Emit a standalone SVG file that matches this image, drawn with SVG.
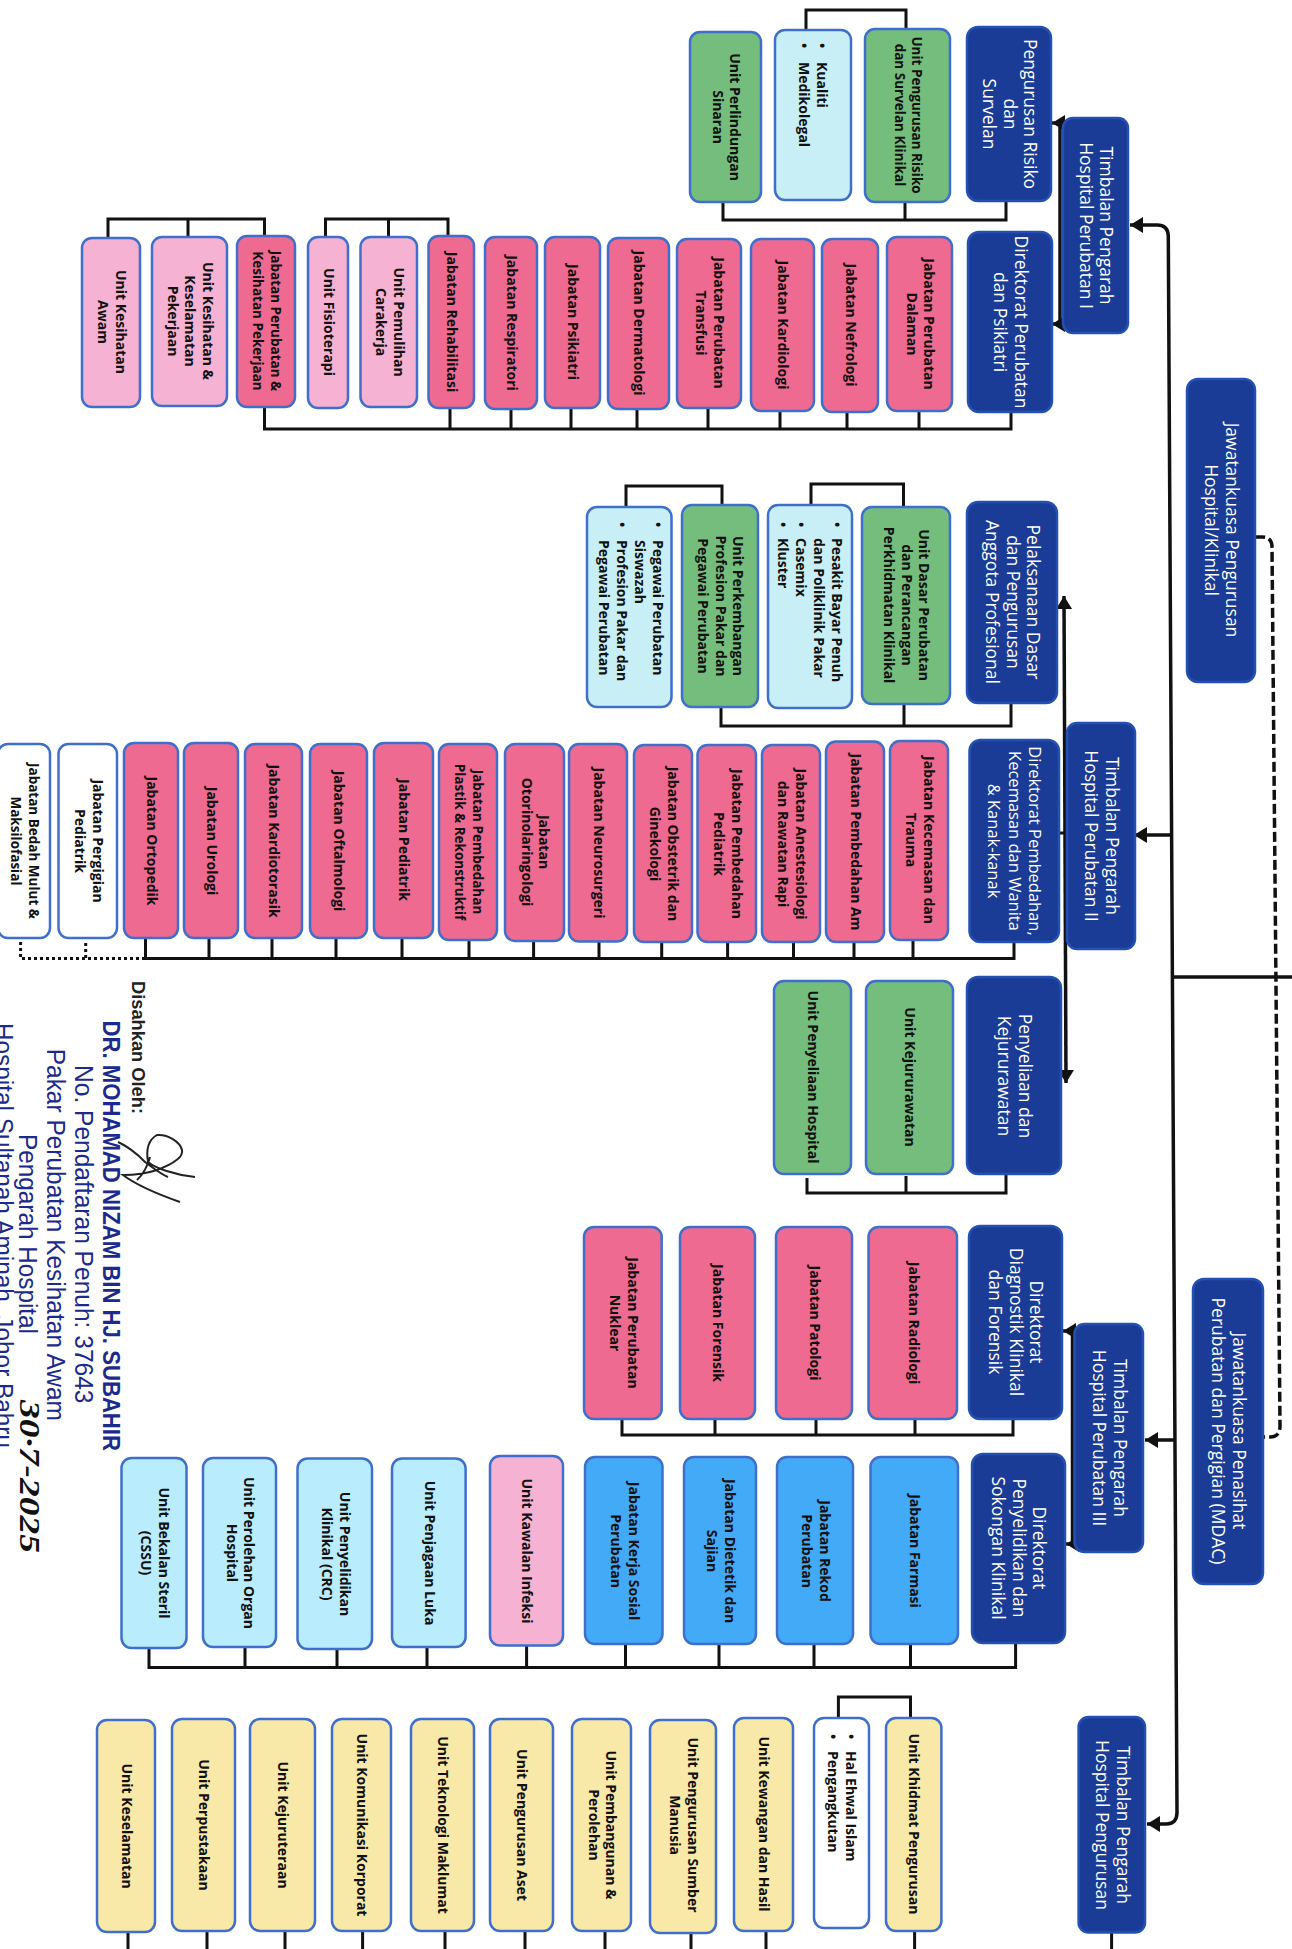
<svg xmlns="http://www.w3.org/2000/svg" width="1292" height="1949" viewBox="0 0 1292 1949">
<style>
rect{stroke:#3f6fcb;stroke-width:2.5}
.n{fill:#1b3c96;stroke:#2450b4}
.p{fill:#ee6a90}.g{fill:#75bd7c}.c{fill:#c8eff5}.l{fill:#f5b2d2}.b{fill:#42aaf6}.s{fill:#b9ecfd}.y{fill:#f9e9a9}.o{fill:#fff}
.w{font:17.5px "Open Sans","Noto Sans",sans-serif;fill:#fff;text-anchor:middle}
.t{font:700 14px "Open Sans","Noto Sans",sans-serif;fill:#111;text-anchor:middle}
.u{font:700 14px "Open Sans","Noto Sans",sans-serif;fill:#111}
.sig{font-family:"Liberation Sans",Arial,sans-serif;fill:#1b2a8c}
.ln{fill:none;stroke:#111;stroke-width:3}
.ar{fill:none;stroke:#111;stroke-width:3.5}
</style>
<defs>
<marker id="h" markerUnits="userSpaceOnUse" markerWidth="14" markerHeight="18" refX="13" refY="8" orient="auto-start-reverse"><path d="M0 0L13 8L0 16z" fill="#111"/></marker>
</defs>
<g id="connectors">
<path class="ar" marker-start="url(#h)" marker-end="url(#h)" d="M1130 225H1157Q1168 225 1168.3 236L1177 1812Q1177.2 1824 1166 1824H1147"/>
<path class="ar" marker-end="url(#h)" d="M1171 835H1134"/>
<path class="ar" marker-end="url(#h)" d="M1175.5 1440H1145"/>
<path class="ar" d="M1173 977H1292"/>
<path class="ar" stroke-dasharray="10 4" d="M1255 537H1262Q1272 537 1272 547L1280 1426Q1280 1437 1270 1437H1263"/>
<path class="ar" marker-end="url(#h)" d="M1060 324H1052"/>
<path class="ar" marker-end="url(#h)" d="M1060 123H1052"/>
<path class="ar" d="M1060 123V324"/>
<path class="ar" marker-start="url(#h)" marker-end="url(#h)" d="M1064 596L1066 1083"/>
<path class="ln" d="M1058 833H1066"/>
<path class="ar" d="M1072.5 1331V1544"/>
<path class="ar" marker-end="url(#h)" d="M1072.5 1331H1063"/>
<path class="ar" marker-end="url(#h)" d="M1072.5 1544H1066"/>
<path class="ln" d="M806 30V10H906V30"/>
<path class="ln" d="M723 202V220H1006V201M905 202V220"/>
<path class="ln" d="M1011 412V429H264.5V407M919 411V429M847 412V429M780 411V429M708 408V429M637 409V429M571 408V429M511 409V429M450 408V429"/>
<path class="ln" d="M108 238V219H264.5V236M188 219V237"/>
<path class="ln" d="M325.5 237V219H448V236M388.5 219V237"/>
<path class="ln" d="M811 505V484H903.5V507"/>
<path class="ln" d="M626 507V486H722V505"/>
<path class="ln" d="M1011 703V726H721V707M904 704V726"/>
<path class="ln" d="M1014 942V958.5H145.5V938M913 940V958M854 942V958M793.5 942V958M727.6 942V958M661.7 942V958M599 941V958M533.6 941V958M469 940V958M402 938V958M336 938V958M272 938V958M209 938V958"/>
<path class="ln" stroke-dasharray="3 3" d="M145 958.5H20.6V940M85.7 958V940"/>
<path class="ln" d="M1006 1174V1193H807V1178M906 1176V1193"/>
<path class="ln" d="M1013 1419V1435H622V1419M915 1419V1435M816 1419V1435M715 1419V1435"/>
<path class="ln" d="M1015.6 1643V1667.5H149V1648M910.5 1644V1667M814 1644V1667M719 1644V1667M625.5 1644V1667M526.6 1645V1667M427 1647V1667M337 1649V1667M245 1647V1667"/>
<path class="ln" d="M838.4 1718V1697H910.5V1718"/>
<path class="ln" d="M1111.6 1932V1949M914.6 1931V1949M766 1931V1949M691 1933V1949M605 1931V1949M525 1931V1949M445 1931V1949M362.6 1931V1949M285 1931V1949M207 1931V1949M128 1931V1949"/>
</g>
<g id="n-timbalan1"><rect class="n" x="1063" y="118" width="65" height="215" rx="10"/><text class="w" transform="translate(1095.5 225.5) rotate(90)"><tspan x="0" y="-4.5">Timbalan Pengarah</tspan><tspan x="0" y="16">Hospital Perubatan I</tspan></text></g>
<g id="n-risiko"><rect class="n" x="967" y="27" width="84" height="174" rx="11"/><text class="w" transform="translate(1009 114) rotate(90)"><tspan x="0" y="-15">Pengurusan Risiko</tspan><tspan x="0" y="5.5">dan</tspan><tspan x="0" y="26">Survelan</tspan></text></g>
<g id="n-dirperubatan"><rect class="n" x="968" y="232" width="84" height="180" rx="11"/><text class="w" transform="translate(1010 322) rotate(90)"><tspan x="0" y="-5">Direktorat Perubatan</tspan><tspan x="0" y="16">dan Psikiatri</tspan></text></g>
<g id="n-jkpengurusan"><rect class="n" x="1187" y="379" width="68" height="303" rx="11"/><text class="w" transform="translate(1221 530) rotate(90)"><tspan x="0" y="-5">Jawatankuasa Pengurusan</tspan><tspan x="0" y="16">Hospital/Klinikal</tspan></text></g>
<g id="n-pelaksanaan"><rect class="n" x="967" y="502" width="90" height="201" rx="11"/><text class="w" transform="translate(1012 602) rotate(90)"><tspan x="0" y="-15">Pelaksanaan Dasar</tspan><tspan x="0" y="5.5">dan Pengurusan</tspan><tspan x="0" y="26">Anggota Profesional</tspan></text></g>
<g id="n-timbalan2"><rect class="n" x="1067" y="723" width="68" height="226" rx="10"/><text class="w" transform="translate(1101 836) rotate(90)"><tspan x="0" y="-5">Timbalan Pengarah</tspan><tspan x="0" y="16">Hospital Perubatan II</tspan></text></g>
<g id="n-dirpembedahan"><rect class="n" x="969.5" y="740" width="89.5" height="202" rx="11"/><text class="w" transform="translate(1014 841) rotate(90)" style="font-size:16.5px"><tspan x="0" y="-15">Direktorat Pembedahan,</tspan><tspan x="0" y="5.5">Kecemasan dan Wanita</tspan><tspan x="0" y="26">&amp; Kanak-kanak</tspan></text></g>
<g id="n-kejururawatan"><rect class="n" x="967" y="977" width="94" height="197" rx="11"/><text class="w" transform="translate(1014 1076) rotate(90)"><tspan x="0" y="-5">Penyeliaan dan</tspan><tspan x="0" y="16">Kejururawatan</tspan></text></g>
<g id="n-dirdiagnostik"><rect class="n" x="969" y="1226" width="93" height="193" rx="11"/><text class="w" transform="translate(1015 1322) rotate(90)"><tspan x="0" y="-15">Direktorat</tspan><tspan x="0" y="5.5">Diagnostik Klinikal</tspan><tspan x="0" y="26">dan Forensik</tspan></text></g>
<g id="n-timbalan3"><rect class="n" x="1074.5" y="1324" width="68.5" height="228" rx="10"/><text class="w" transform="translate(1109 1438) rotate(90)"><tspan x="0" y="-5">Timbalan Pengarah</tspan><tspan x="0" y="16">Hospital Perubatan III</tspan></text></g>
<g id="n-mdac"><rect class="n" x="1193" y="1279" width="70" height="305" rx="11"/><text class="w" transform="translate(1228 1431) rotate(90)"><tspan x="0" y="-5">Jawatankuasa Penasihat</tspan><tspan x="0" y="16">Perubatan dan Pergigian (MDAC)</tspan></text></g>
<g id="n-dirpenyelidikan"><rect class="n" x="972" y="1454" width="93" height="189" rx="11"/><text class="w" transform="translate(1018 1548) rotate(90)"><tspan x="0" y="-15">Direktorat</tspan><tspan x="0" y="5.5">Penyelidikan dan</tspan><tspan x="0" y="26">Sokongan Klinikal</tspan></text></g>
<g id="n-timbalanpengurusan"><rect class="n" x="1078.6" y="1717" width="66.4" height="215.5" rx="10"/><text class="w" transform="translate(1112 1825) rotate(90)"><tspan x="0" y="-5">Timbalan Pengarah</tspan><tspan x="0" y="16">Hospital Pengurusan</tspan></text></g>

<g id="u-risiko"><rect class="g" x="865" y="29" width="85" height="173" rx="10"/><text class="t" transform="translate(907.5 115) rotate(90)" style="font-size:13.5px"><tspan x="0" y="-4.5">Unit Pengurusan Risiko</tspan><tspan x="0" y="13">dan Survelan Klinikal</tspan></text></g>
<g id="u-kualiti"><rect class="c" x="775" y="30" width="76" height="170" rx="10"/><text class="u" transform="translate(817 62) rotate(90)"><tspan x="-19" y="0">•</tspan><tspan x="0" y="0">Kualiti</tspan><tspan x="-19" y="18">•</tspan><tspan x="0" y="18">Medikolegal</tspan></text></g>
<g id="u-sinaran"><rect class="g" x="690" y="32" width="71" height="170" rx="10"/><text class="t" transform="translate(725.5 117) rotate(90)"><tspan x="0" y="-4.5">Unit Perlindungan</tspan><tspan x="0" y="13">Sinaran</tspan></text></g>
<g id="j-dalaman"><rect class="p" x="887" y="237" width="65" height="174" rx="10"/><text class="t" transform="translate(919.5 324) rotate(90)"><tspan x="0" y="-4.5">Jabatan Perubatan</tspan><tspan x="0" y="13">Dalaman</tspan></text></g>
<g id="j-nefrologi"><rect class="p" x="822" y="239" width="56" height="173" rx="10"/><text class="t" transform="translate(850 325) rotate(90)" y="4.5">Jabatan Nefrologi</text></g>
<g id="j-kardiologi"><rect class="p" x="751" y="239" width="63" height="172" rx="10"/><text class="t" transform="translate(782.5 325) rotate(90)" y="4.5">Jabatan Kardiologi</text></g>
<g id="j-transfusi"><rect class="p" x="677" y="239" width="64" height="169" rx="10"/><text class="t" transform="translate(709 323) rotate(90)"><tspan x="0" y="-4.5">Jabatan Perubatan</tspan><tspan x="0" y="13">Transfusi</tspan></text></g>
<g id="j-dermatologi"><rect class="p" x="608" y="238" width="61" height="171" rx="10"/><text class="t" transform="translate(638.5 323) rotate(90)" y="4.5">Jabatan Dermatologi</text></g>
<g id="j-psikiatri"><rect class="p" x="545" y="237" width="55" height="171" rx="10"/><text class="t" transform="translate(572.5 322) rotate(90)" y="4.5">Jabatan Psikiatri</text></g>
<g id="j-respiratori"><rect class="p" x="485" y="237" width="52" height="172" rx="10"/><text class="t" transform="translate(511 323) rotate(90)" y="4.5">Jabatan Respiratori</text></g>
<g id="j-rehabilitasi"><rect class="p" x="428.5" y="236" width="45.5" height="172" rx="10"/><text class="t" transform="translate(451 322) rotate(90)" y="4.5">Jabatan Rehabilitasi</text></g>
<g id="u-carakerja"><rect class="l" x="360.5" y="237" width="56.5" height="170" rx="10"/><text class="t" transform="translate(389 322) rotate(90)"><tspan x="0" y="-4.5">Unit Pemulihan</tspan><tspan x="0" y="13">Carakerja</tspan></text></g>
<g id="u-fisioterapi"><rect class="l" x="308" y="237" width="40" height="171" rx="10"/><text class="t" transform="translate(328 322) rotate(90)" y="4.5">Unit Fisioterapi</text></g>
<g id="j-pekerjaan"><rect class="p" x="237" y="236" width="58" height="171" rx="10"/><text class="t" transform="translate(266 321) rotate(90)" style="font-size:13.5px"><tspan x="0" y="-4.5">Jabatan Perubatan &amp;</tspan><tspan x="0" y="13">Kesihatan Pekerjaan</tspan></text></g>
<g id="u-keselamatanpekerjaan"><rect class="l" x="152" y="237" width="75" height="169" rx="10"/><text class="t" transform="translate(189.5 321) rotate(90)"><tspan x="0" y="-13">Unit Kesihatan &amp;</tspan><tspan x="0" y="4.5">Keselamatan</tspan><tspan x="0" y="22">Pekerjaan</tspan></text></g>
<g id="u-awam"><rect class="l" x="82" y="238" width="58" height="169" rx="10"/><text class="t" transform="translate(111 322) rotate(90)"><tspan x="0" y="-4.5">Unit Kesihatan</tspan><tspan x="0" y="13">Awam</tspan></text></g>

<g id="u-dasar"><rect class="g" x="862" y="507" width="88" height="197" rx="10"/><text class="t" transform="translate(906 605) rotate(90)"><tspan x="0" y="-13">Unit Dasar Perubatan</tspan><tspan x="0" y="4.5">dan Perancangan</tspan><tspan x="0" y="22">Perkhidmatan Klinikal</tspan></text></g>
<g id="u-bayarpenuh"><rect class="c" x="768" y="505" width="84" height="203" rx="10"/><text class="u" transform="translate(832 538) rotate(90)"><tspan x="-16" y="0">•</tspan><tspan x="0" y="0">Pesakit Bayar Penuh</tspan><tspan x="0" y="18">dan Poliklinik Pakar</tspan><tspan x="-16" y="36">•</tspan><tspan x="0" y="36">Casemix</tspan><tspan x="-16" y="54">•</tspan><tspan x="0" y="54">Kluster</tspan></text></g>
<g id="u-perkembangan"><rect class="g" x="682" y="505" width="76" height="202" rx="10"/><text class="t" transform="translate(720 606) rotate(90)"><tspan x="0" y="-13">Unit Perkembangan</tspan><tspan x="0" y="4.5">Profesion Pakar dan</tspan><tspan x="0" y="22">Pegawai Perubatan</tspan></text></g>
<g id="u-pegawai"><rect class="c" x="587" y="507" width="84.5" height="200" rx="10"/><text class="u" transform="translate(653 540) rotate(90)"><tspan x="-18" y="0">•</tspan><tspan x="0" y="0">Pegawai Perubatan</tspan><tspan x="0" y="18">Siswazah</tspan><tspan x="-18" y="36">•</tspan><tspan x="0" y="36">Profesion Pakar dan</tspan><tspan x="0" y="54">Pegawai Perubatan</tspan></text></g>

<g id="j-kecemasan"><rect class="p" x="890" y="741" width="58" height="199" rx="10"/><text class="t" transform="translate(919 840) rotate(90)"><tspan x="0" y="-4.5">Jabatan Kecemasan dan</tspan><tspan x="0" y="13">Trauma</tspan></text></g>
<g id="j-pembedahanam"><rect class="p" x="826" y="741.5" width="58" height="200.5" rx="10"/><text class="t" transform="translate(855 842) rotate(90)" y="4.5">Jabatan Pembedahan Am</text></g>
<g id="j-anestesiologi"><rect class="p" x="762" y="745" width="58" height="197" rx="10"/><text class="t" transform="translate(791 844) rotate(90)"><tspan x="0" y="-4.5">Jabatan Anestesiologi</tspan><tspan x="0" y="13">dan Rawatan Rapi</tspan></text></g>
<g id="j-pembedahanpediatrik"><rect class="p" x="697.5" y="745" width="58.5" height="197" rx="10"/><text class="t" transform="translate(727 844) rotate(90)"><tspan x="0" y="-4.5">Jabatan Pembedahan</tspan><tspan x="0" y="13">Pediatrik</tspan></text></g>
<g id="j-obstetrik"><rect class="p" x="634" y="745" width="58" height="197" rx="10"/><text class="t" transform="translate(663 844) rotate(90)"><tspan x="0" y="-4.5">Jabatan Obstetrik dan</tspan><tspan x="0" y="13">Ginekologi</tspan></text></g>
<g id="j-neurosurgeri"><rect class="p" x="569" y="744" width="58" height="197.5" rx="10"/><text class="t" transform="translate(598 843) rotate(90)" y="4.5">Jabatan Neurosurgeri</text></g>
<g id="j-otorino"><rect class="p" x="505" y="744" width="59" height="197" rx="10"/><text class="t" transform="translate(534.5 842) rotate(90)"><tspan x="0" y="-4.5">Jabatan</tspan><tspan x="0" y="13">Otorinolaringologi</tspan></text></g>
<g id="j-plastik"><rect class="p" x="439" y="744" width="58" height="196" rx="10"/><text class="t" transform="translate(468 842) rotate(90)" style="font-size:13.5px"><tspan x="0" y="-4.5">Jabatan Pembedahan</tspan><tspan x="0" y="13">Plastik &amp; Rekonstruktif</tspan></text></g>
<g id="j-pediatrik"><rect class="p" x="374" y="743" width="59" height="195" rx="10"/><text class="t" transform="translate(403.5 840) rotate(90)" y="4.5">Jabatan Pediatrik</text></g>
<g id="j-oftalmologi"><rect class="p" x="310" y="744" width="57" height="194" rx="10"/><text class="t" transform="translate(338.5 841) rotate(90)" y="4.5">Jabatan Oftalmologi</text></g>
<g id="j-kardiotorasik"><rect class="p" x="245" y="744" width="57" height="194" rx="10"/><text class="t" transform="translate(273.5 841) rotate(90)" y="4.5">Jabatan Kardiotorasik</text></g>
<g id="j-urologi"><rect class="p" x="184" y="743" width="54" height="195" rx="10"/><text class="t" transform="translate(211 841) rotate(90)" y="4.5">Jabatan Urologi</text></g>
<g id="j-ortopedik"><rect class="p" x="124" y="743" width="54" height="195" rx="10"/><text class="t" transform="translate(151 841) rotate(90)" y="4.5">Jabatan Ortopedik</text></g>
<g id="j-pergigian"><rect class="o" x="58.5" y="744" width="58.5" height="194" rx="10"/><text class="t" transform="translate(88 841) rotate(90)"><tspan x="0" y="-4.5">Jabatan Pergigian</tspan><tspan x="0" y="13">Pediatrik</tspan></text></g>
<g id="j-bedahmulut"><rect class="o" x="-2" y="744" width="52" height="194" rx="10"/><text class="t" transform="translate(24 841) rotate(90)" style="font-size:13.5px"><tspan x="0" y="-4.5">Jabatan Bedah Mulut &amp;</tspan><tspan x="0" y="13">Maksilofasial</tspan></text></g>

<g id="u-kejururawatan"><rect class="g" x="866" y="981" width="87" height="193" rx="10"/><text class="t" transform="translate(909 1077) rotate(90)" y="4.5">Unit Kejururawatan</text></g>
<g id="u-penyeliaan"><rect class="g" x="774" y="981" width="77" height="193" rx="10"/><text class="t" transform="translate(812 1077) rotate(90)" y="4.5">Unit Penyeliaan Hospital</text></g>

<g id="j-radiologi"><rect class="p" x="868.5" y="1227" width="88.5" height="192" rx="10"/><text class="t" transform="translate(913 1323) rotate(90)" y="4.5">Jabatan Radiologi</text></g>
<g id="j-patologi"><rect class="p" x="776" y="1227" width="76" height="192" rx="10"/><text class="t" transform="translate(814 1323) rotate(90)" y="4.5">Jabatan Patologi</text></g>
<g id="j-forensik"><rect class="p" x="680" y="1227" width="75" height="192" rx="10"/><text class="t" transform="translate(717.5 1323) rotate(90)" y="4.5">Jabatan Forensik</text></g>
<g id="j-nuklear"><rect class="p" x="584" y="1227" width="77.7" height="192" rx="10"/><text class="t" transform="translate(623 1323) rotate(90)"><tspan x="0" y="-4.5">Jabatan Perubatan</tspan><tspan x="0" y="13">Nuklear</tspan></text></g>

<g id="j-farmasi"><rect class="b" x="870.5" y="1457" width="87.5" height="187" rx="10"/><text class="t" transform="translate(914 1551) rotate(90)" y="4.5">Jabatan Farmasi</text></g>
<g id="j-rekod"><rect class="b" x="777" y="1457" width="76" height="187" rx="10"/><text class="t" transform="translate(815 1551) rotate(90)"><tspan x="0" y="-4.5">Jabatan Rekod</tspan><tspan x="0" y="13">Perubatan</tspan></text></g>
<g id="j-dietetik"><rect class="b" x="684" y="1457" width="72" height="187" rx="10"/><text class="t" transform="translate(720 1551) rotate(90)"><tspan x="0" y="-4.5">Jabatan Dietetik dan</tspan><tspan x="0" y="13">Sajian</tspan></text></g>
<g id="j-kerjasosial"><rect class="b" x="585" y="1457" width="77.5" height="187" rx="10"/><text class="t" transform="translate(624 1551) rotate(90)"><tspan x="0" y="-4.5">Jabatan Kerja Sosial</tspan><tspan x="0" y="13">Perubatan</tspan></text></g>
<g id="u-infeksi"><rect class="l" x="490" y="1456" width="73" height="189.6" rx="10"/><text class="t" transform="translate(526.5 1551) rotate(90)" y="4.5">Unit Kawalan Infeksi</text></g>
<g id="u-luka"><rect class="s" x="392" y="1458.5" width="73.6" height="188.5" rx="10"/><text class="t" transform="translate(429 1553) rotate(90)" y="4.5">Unit Penjagaan Luka</text></g>
<g id="u-crc"><rect class="s" x="297.5" y="1458.5" width="74.5" height="190.5" rx="10"/><text class="t" transform="translate(335 1554) rotate(90)"><tspan x="0" y="-4.5">Unit Penyelidikan</tspan><tspan x="0" y="13">Klinikal (CRC)</tspan></text></g>
<g id="u-organ"><rect class="s" x="203" y="1458" width="73" height="189" rx="10"/><text class="t" transform="translate(239.5 1553) rotate(90)"><tspan x="0" y="-4.5">Unit Perolehan Organ</tspan><tspan x="0" y="13">Hospital</tspan></text></g>
<g id="u-cssu"><rect class="s" x="121.5" y="1458" width="65" height="190" rx="10"/><text class="t" transform="translate(154 1553) rotate(90)"><tspan x="0" y="-4.5">Unit Bekalan Steril</tspan><tspan x="0" y="13">(CSSU)</tspan></text></g>

<g id="u-khidmat"><rect class="y" x="886" y="1718" width="55.4" height="213" rx="10"/><text class="t" transform="translate(913.7 1824) rotate(90)" y="4.5">Unit Khidmat Pengurusan</text></g>
<g id="u-islam"><rect class="o" x="814" y="1718" width="55" height="210" rx="10"/><text class="u" transform="translate(846 1751) rotate(90)"><tspan x="-17" y="0">•</tspan><tspan x="0" y="0">Hal Ehwal Islam</tspan><tspan x="-17" y="18">•</tspan><tspan x="0" y="18">Pengangkutan</tspan></text></g>
<g id="u-kewangan"><rect class="y" x="734" y="1718" width="59" height="213" rx="10"/><text class="t" transform="translate(763.5 1824) rotate(90)" y="4.5">Unit Kewangan dan Hasil</text></g>
<g id="u-sumbermanusia"><rect class="y" x="650" y="1720" width="66" height="213" rx="10"/><text class="t" transform="translate(683 1825) rotate(90)"><tspan x="0" y="-4.5">Unit Pengurusan Sumber</tspan><tspan x="0" y="13">Manusia</tspan></text></g>
<g id="u-pembangunan"><rect class="y" x="572" y="1719" width="59" height="212" rx="10"/><text class="t" transform="translate(601.5 1825) rotate(90)"><tspan x="0" y="-4.5">Unit Pembangunan &amp;</tspan><tspan x="0" y="13">Perolehan</tspan></text></g>
<g id="u-aset"><rect class="y" x="490" y="1719" width="63" height="212" rx="10"/><text class="t" transform="translate(521.5 1825) rotate(90)" y="4.5">Unit Pengurusan Aset</text></g>
<g id="u-teknologi"><rect class="y" x="411" y="1719" width="63" height="212" rx="10"/><text class="t" transform="translate(442.5 1825) rotate(90)" y="4.5">Unit Teknologi Maklumat</text></g>
<g id="u-komunikasi"><rect class="y" x="332" y="1719" width="59" height="212" rx="10"/><text class="t" transform="translate(361.5 1825) rotate(90)" y="4.5">Unit Komunikasi Korporat</text></g>
<g id="u-kejuruteraan"><rect class="y" x="250" y="1719" width="65" height="212" rx="10"/><text class="t" transform="translate(282.5 1825) rotate(90)" y="4.5">Unit Kejuruteraan</text></g>
<g id="u-perpustakaan"><rect class="y" x="172" y="1719" width="63" height="212" rx="10"/><text class="t" transform="translate(203.5 1825) rotate(90)" y="4.5">Unit Perpustakaan</text></g>
<g id="u-keselamatan"><rect class="y" x="97" y="1720" width="58" height="212" rx="10"/><text class="t" transform="translate(126 1826) rotate(90)" y="4.5">Unit Keselamatan</text></g>

<g id="pengesahan">
<text transform="translate(132 981) rotate(90)" font-family="Liberation Sans,Arial,sans-serif" font-size="19" font-weight="700" fill="#222" textLength="133" lengthAdjust="spacingAndGlyphs">Disahkan Oleh:</text>
<text class="sig" transform="translate(103 1020.5) rotate(90)" font-size="24" font-weight="700" textLength="430.5" lengthAdjust="spacingAndGlyphs">DR. MOHAMAD NIZAM BIN HJ. SUBAHIR</text>
<text class="sig" transform="translate(75 1065) rotate(90)" font-size="25" textLength="338.5" lengthAdjust="spacingAndGlyphs">No. Pendaftaran Penuh: 37643</text>
<text class="sig" transform="translate(47 1048.7) rotate(90)" font-size="25" textLength="372.3" lengthAdjust="spacingAndGlyphs">Pakar Perubatan Kesihatan Awam</text>
<text class="sig" transform="translate(19 1134) rotate(90)" font-size="25" textLength="200" lengthAdjust="spacingAndGlyphs">Pengarah Hospital</text>
<text class="sig" transform="translate(-5 1023) rotate(90)" font-size="25" textLength="425" lengthAdjust="spacingAndGlyphs">Hospital Sultanah Aminah, Johor Bahru</text>
<path d="M195 1177C175 1175 155 1168 148 1162C146 1150 148 1140 157 1135C168 1134 180 1142 182 1150C184 1158 170 1165 157 1170C145 1174 132 1175 123 1175C135 1184 160 1195 180 1202M118 1142C125 1145 138 1154 145 1162C152 1167 160 1174 168 1177M150 1157C148 1165 143 1175 137 1180" fill="none" stroke="#222" stroke-width="2"/>
<text transform="translate(20 1400) rotate(90)" font-family="Liberation Serif,serif" font-style="italic" font-weight="700" font-size="30" fill="#111" textLength="153" lengthAdjust="spacingAndGlyphs">30·7-2025</text>
</g>
</svg>
